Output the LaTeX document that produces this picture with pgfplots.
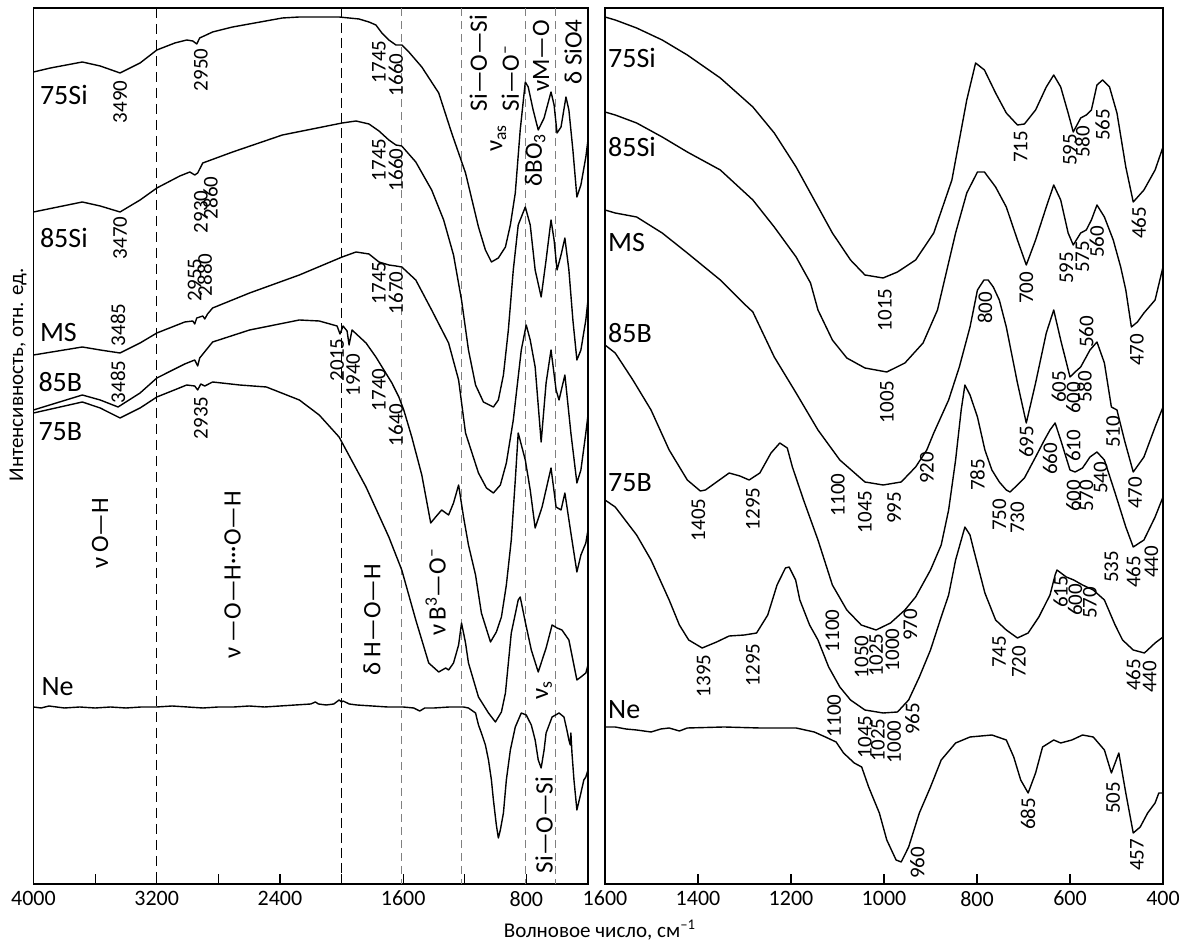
\documentclass[border=0pt]{standalone}
\usepackage{fontspec}
\setmainfont{Carlito}
\usepackage{pgfplots}
\pgfplotsset{compat=1.18}
\newcommand{\nf}{\fontsize{10.5}{11}\selectfont}
\newcommand{\smp}{\fontsize{14}{15}\selectfont}
\newcommand{\anf}{\fontsize{12.5}{13}\selectfont}
\pgfplotsset{
  spec/.style={
    scale only axis, height=438pt, anchor=south west,
    x dir=reverse, y dir=reverse,
    ymin=8, ymax=884, ytick=\empty,
    xtick pos=left, tick align=inside,
    major tick length=5pt, minor tick length=5pt,
    axis line style={line width=0.75pt},
    every tick/.style={black, line width=0.6pt},
    tick label style={font=\fontsize{11}{12}\selectfont},
    /pgf/number format/assume math mode=true,
    /pgf/number format/1000 sep={},
    clip=false,
  },
  sp/.style={black, line width=0.7pt, no markers, line join=round},
  dk/.style={black, line width=0.6pt, dash pattern=on 5pt off 3pt},
  dkb/.style={black, line width=0.9pt, dash pattern=on 5pt off 2.5pt},
  dg/.style={gray, line width=0.55pt, dash pattern=on 4pt off 2.5pt},
}
\newcommand{\nl}[3]{\node[rotate=90,font=\nf,inner sep=0pt] at (axis cs:#1,#2) {#3};}
\newcommand{\an}[3]{\node[rotate=90,font=\anf,inner sep=0pt] at (axis cs:#1,#2) {#3};}
\begin{document}
\begin{tikzpicture}
\useasboundingbox (0,0) rectangle (589.5pt,472.5pt);
% ---------------- left panel ----------------
\begin{axis}[spec, at={(16.75pt,30.5pt)}, width=277.25pt,
  xmin=400, xmax=4000, xtick={4000,3200,2400,1600,800},
  minor xtick={3600,2800,2000,1200,400}]
\addplot[dk] coordinates {(3200,8) (3200,884)};
\addplot[dkb] coordinates {(2000,8) (2000,884)};
\addplot[dg] coordinates {(1610,8) (1610,884)};
\addplot[dg] coordinates {(1220,8) (1220,884)};
\addplot[dg] coordinates {(805,8) (805,884)};
\addplot[dg] coordinates {(612,8) (612,884)};
% 75Si
\addplot[sp] coordinates {(4000,72) (3890,68) (3683,62) (3567,66) (3438,73) (3308,63) (3199,50) (3082,43) (3005,40) (2966,41) (2940,44) (2921,38) (2837,32) (2707,27) (2384,18) (2274,17) (2016,17) (1887,19) (1822,22) (1777,25) (1738,33) (1693,40) (1647,45) (1609,45) (1563,52) (1479,67) (1369,93) (1285,133) (1195,173) (1111,227) (1066,250) (1027,262) (982,258) (936,247) (904,225) (872,193) (840,130) (807,82) (788,87) (756,110) (723,130) (685,118) (640,92) (620,105) (601,133) (575,127) (543,97) (524,110) (498,150) (472,197) (446,185) (414,157) (400,140)};
% 85Si
\addplot[sp] coordinates {(4000,212) (3683,202) (3567,206) (3438,212) (3308,200) (3199,188) (3050,176) (2985,172) (2953,175) (2934,173) (2901,163) (2707,152) (2384,135) (1996,123) (1906,121) (1822,124) (1757,131) (1693,140) (1647,145) (1609,146) (1518,162) (1415,190) (1337,220) (1273,255) (1221,300) (1176,350) (1130,385) (1079,402) (1014,407) (982,400) (949,375) (917,330) (885,270) (853,225) (807,207) (775,225) (743,270) (704,297) (672,260) (640,220) (620,240) (601,270) (575,255) (550,238) (524,270) (498,320) (472,360) (446,350) (414,320) (400,300)};
% MS
\addplot[sp] coordinates {(4000,355) (3683,347) (3567,350) (3438,353) (3308,343) (3199,333) (3018,322) (2966,321) (2953,324) (2940,318) (2901,316) (2888,319) (2870,314) (2837,308) (2597,293) (2274,275) (1996,257) (1906,252) (1822,254) (1757,262) (1693,265) (1647,266) (1609,267) (1518,280) (1415,310) (1305,343) (1240,380) (1195,433) (1111,473) (1059,488) (1014,493) (969,485) (930,463) (885,420) (833,350) (801,325) (775,340) (743,367) (704,442) (672,383) (640,350) (607,390) (588,400) (550,375) (511,433) (472,483) (446,470) (414,433) (400,415)};
% 85B
\addplot[sp] coordinates {(4000,410) (3683,395) (3567,400) (3451,407) (3308,393) (3199,378) (3018,364) (2953,360) (2934,366) (2921,358) (2837,342) (2597,330) (2274,320) (2145,321) (2029,326) (2010,334) (1990,326) (1964,331) (1951,345) (1932,330) (1841,343) (1777,357) (1725,370) (1673,383) (1628,397) (1596,410) (1544,437) (1479,475) (1421,523) (1389,517) (1350,510) (1305,515) (1273,503) (1240,485) (1208,517) (1176,545) (1130,575) (1092,613) (1033,642) (995,632) (962,617) (930,585) (898,540) (872,480) (853,433) (807,460) (775,490) (743,528) (698,507) (640,468) (607,507) (575,510) (550,493) (511,533) (472,572) (446,555) (414,543) (400,530)};
% 75B
\addplot[sp] coordinates {(4000,413) (3683,402) (3567,408) (3438,418) (3308,408) (3199,397) (3005,385) (2953,386) (2934,390) (2914,384) (2888,386) (2837,382) (2662,385) (2488,387) (2274,400) (2145,415) (2016,437) (1841,487) (1693,537) (1609,570) (1518,620) (1434,663) (1369,672) (1324,668) (1305,670) (1273,663) (1240,645) (1221,623) (1195,643) (1176,663) (1111,697) (1046,713) (1001,722) (962,712) (936,693) (898,633) (853,600) (840,597) (807,622) (768,650) (723,672) (672,648) (633,625) (601,628) (569,630) (524,640) (498,660) (472,680) (446,677) (414,673) (400,665)};
% Ne
\addplot[sp] coordinates {(4000,707) (3950,708) (3900,706) (3850,707) (3800,708) (3700,707) (3600,708) (3500,707) (3400,708) (3300,707) (3200,707) (3100,706) (3000,707) (2900,708) (2800,707) (2700,707) (2600,706) (2500,707) (2400,706) (2300,705) (2200,704) (2170,702) (2150,704) (2100,705) (2050,704) (2016,700) (2000,702) (1990,701) (1950,704) (1900,705) (1800,706) (1700,707) (1600,707) (1531,708) (1492,711) (1460,708) (1400,708) (1300,707) (1208,707) (1176,708) (1130,713) (1111,725) (1092,733) (1066,745) (1046,760) (1027,780) (1014,800) (995,825) (982,838) (969,830) (949,813) (930,780) (904,750) (872,727) (833,713) (801,715) (768,725) (743,740) (723,760) (704,768) (685,750) (672,733) (633,717) (588,713) (556,717) (537,730) (524,740) (515,745) (511,733) (504,753) (491,780) (472,810) (446,793) (427,780) (414,777) (400,770)};
% sample names
\node[font=\smp,anchor=west,inner sep=0pt] at (axis cs:3960,95) {75Si};
\node[font=\smp,anchor=west,inner sep=0pt] at (axis cs:3960,238) {85Si};
\node[font=\smp,anchor=west,inner sep=0pt] at (axis cs:3960,333) {MS};
\node[font=\smp,anchor=west,inner sep=0pt] at (axis cs:3970,382) {85B};
\node[font=\smp,anchor=west,inner sep=0pt] at (axis cs:3970,432) {75B};
\node[font=\smp,anchor=west,inner sep=0pt] at (axis cs:3950,687) {Ne};
% peak labels
\nl{3438}{102}{3490}
\nl{2914}{70}{2950}
\nl{1757}{62}{1745}
\nl{1647}{75}{1660}
\nl{3438}{238}{3470}
\nl{2914}{212}{2930}
\nl{2850}{198}{2860}
\nl{1757}{160}{1745}
\nl{1647}{170}{1660}
\nl{2953}{280}{2955}
\nl{2888}{275}{2880}
\nl{3451}{325}{3485}
\nl{1757}{283}{1745}
\nl{1647}{293}{1670}
\nl{3451}{382}{3485}
\nl{2029}{360}{2015}
\nl{1925}{375}{1940}
\nl{1757}{390}{1740}
\nl{1647}{425}{1640}
\nl{2914}{418}{2935}
% band annotations
\an{3567}{533}{ν\,O—H}
\an{2707}{575}{ν —O—H···O—H}
\an{1803}{620}{δ H—O—H}
\an{1389}{592}{ν\,B\textsuperscript{3}—O\textsuperscript{–}}
\an{1111}{63}{Si—O—Si}
\an{982}{138}{ν\textsubscript{as}}
\an{904}{78}{Si—O\textsuperscript{–}}
\an{704}{56}{νM—O}
\an{743}{160}{δBO\textsubscript{3}}
\an{497}{52}{δ SiO4}
\an{685}{690}{ν\textsubscript{s}}
\an{685}{825}{Si—O—Si}
\end{axis}
% ---------------- right panel ----------------
\begin{axis}[spec, at={(302.5pt,30.5pt)}, width=279pt,
  xmin=400, xmax=1600, xtick={1600,1400,1200,1000,800,600,400}]
% 75Si
\addplot[sp] coordinates {(1600,17) (1578,20) (1532,28) (1477,40) (1423,55) (1352,78) (1282,107) (1236,133) (1189,167) (1150,200) (1111,233) (1072,260) (1041,275) (1002,278) (971,272) (932,260) (893,233) (854,180) (822,100) (803,63) (784,70) (760,93) (737,113) (713,125) (698,124) (674,110) (651,87) (635,75) (620,87) (604,113) (593,132) (577,118) (565,115) (554,110) (542,85) (530,80) (515,87) (499,113) (480,167) (464,202) (441,190) (417,170) (400,147)};
% 85Si
\addplot[sp] coordinates {(1600,112) (1578,115) (1532,123) (1477,137) (1423,152) (1352,170) (1282,200) (1236,227) (1189,257) (1158,283) (1142,310) (1111,340) (1080,358) (1041,368) (994,372) (955,363) (916,343) (885,310) (846,233) (822,193) (799,172) (784,172) (760,187) (737,207) (713,240) (694,265) (674,240) (651,207) (635,185) (620,200) (604,233) (593,245) (577,233) (565,230) (554,220) (542,205) (526,217) (507,240) (491,267) (480,290) (468,327) (455,322) (441,313) (417,300) (400,267)};
% MS
\addplot[sp] coordinates {(1600,210) (1578,213) (1532,217) (1477,233) (1423,253) (1352,280) (1298,305) (1282,312) (1236,357) (1189,393) (1142,430) (1095,460) (1041,482) (1002,485) (963,482) (932,467) (908,450) (893,433) (861,400) (838,367) (815,327) (799,290) (785,280) (776,280) (765,287) (752,300) (737,327) (713,383) (694,423) (674,383) (651,333) (635,310) (620,340) (600,377) (589,372) (577,367) (557,350) (542,342) (526,363) (511,407) (499,410) (483,440) (464,472) (441,457) (417,427) (400,407)};
% 85B
\addplot[sp] coordinates {(1600,345) (1578,353) (1540,380) (1501,410) (1462,450) (1423,480) (1395,491) (1384,490) (1360,482) (1333,473) (1310,476) (1290,480) (1267,473) (1243,453) (1224,443) (1208,448) (1197,467) (1173,500) (1142,540) (1111,585) (1080,610) (1049,625) (1017,630) (986,623) (955,610) (932,597) (900,570) (877,545) (861,510) (846,460) (834,410) (826,385) (815,395) (799,417) (783,450) (768,470) (752,482) (737,490) (729,492) (713,485) (698,478) (674,457) (655,440) (643,430) (632,423) (620,440) (610,455) (600,470) (589,472) (573,468) (557,457) (542,452) (526,460) (503,493) (480,527) (464,547) (441,540) (417,517) (400,497)};
% 75B
\addplot[sp] coordinates {(1600,500) (1578,507) (1532,535) (1501,560) (1462,600) (1440,625) (1420,640) (1391,648) (1360,642) (1333,636) (1300,635) (1274,633) (1250,615) (1230,585) (1212,568) (1204,567) (1190,580) (1181,600) (1160,625) (1142,640) (1119,667) (1095,687) (1072,700) (1041,710) (1002,713) (971,712) (947,700) (924,677) (900,650) (877,617) (861,595) (846,560) (826,527) (815,535) (807,550) (783,593) (760,620) (737,630) (713,638) (690,633) (667,617) (643,595) (632,575) (628,570) (608,577) (592,580) (573,585) (550,590) (526,600) (503,625) (487,640) (464,650) (440,653) (417,643) (400,637)};
% Ne
\addplot[sp] coordinates {(1600,727) (1578,727) (1555,729) (1532,730) (1501,732) (1480,729) (1462,728) (1440,731) (1423,728) (1344,727) (1267,728) (1189,728) (1150,732) (1126,737) (1103,742) (1087,753) (1064,763) (1048,767) (1033,787) (1010,813) (994,840) (974,860) (963,862) (947,847) (924,813) (900,787) (877,760) (846,743) (815,737) (768,735) (737,740) (721,757) (706,780) (690,793) (674,773) (659,747) (635,740) (620,743) (596,740) (573,735) (550,737) (526,750) (511,773) (495,753) (480,793) (464,833) (449,827) (433,813) (417,803) (409,793) (400,793)};
% sample names
\node[font=\smp,anchor=west,inner sep=0pt] at (axis cs:1594,58) {75Si};
\node[font=\smp,anchor=west,inner sep=0pt] at (axis cs:1594,147) {85Si};
\node[font=\smp,anchor=west,inner sep=0pt] at (axis cs:1594,243) {MS};
\node[font=\smp,anchor=west,inner sep=0pt] at (axis cs:1594,333) {85B};
\node[font=\smp,anchor=west,inner sep=0pt] at (axis cs:1594,483) {75B};
\node[font=\smp,anchor=west,inner sep=0pt] at (axis cs:1594,710) {Ne};
% labels
\nl{998}{310}{1015}
\nl{706}{147}{715}
\nl{600}{150}{595}
\nl{573}{142}{580}
\nl{530}{125}{565}
\nl{452}{223}{465}
\nl{694}{288}{700}
\nl{608}{268}{595}
\nl{573}{257}{575}
\nl{542}{242}{560}
\nl{456}{350}{470}
\nl{994}{402}{1005}
\nl{783}{308}{800}
\nl{1099}{495}{1100}
\nl{1041}{512}{1045}
\nl{978}{508}{995}
\nl{908}{468}{920}
\nl{799}{475}{785}
\nl{752}{515}{750}
\nl{713}{518}{730}
\nl{694}{442}{695}
\nl{624}{387}{605}
\nl{593}{398}{600}
\nl{569}{387}{580}
\nl{565}{332}{560}
\nl{643}{459}{660}
\nl{593}{446}{610}
\nl{593}{496}{600}
\nl{565}{496}{570}
\nl{534}{478}{540}
\nl{507}{432}{510}
\nl{460}{493}{470}
\nl{464}{572}{465}
\nl{425}{562}{440}
\nl{1399}{520}{1405}
\nl{1282}{509}{1295}
\nl{1111}{631}{1100}
\nl{1048}{657}{1050}
\nl{1017}{655}{1025}
\nl{982}{650}{1000}
\nl{943}{625}{970}
\nl{752}{652}{745}
\nl{710}{662}{720}
\nl{620}{592}{615}
\nl{589}{600}{600}
\nl{557}{603}{570}
\nl{511}{567}{535}
\nl{464}{675}{465}
\nl{429}{677}{440}
\nl{1388}{676}{1395}
\nl{1282}{665}{1295}
\nl{1107}{716}{1100}
\nl{1041}{737}{1045}
\nl{1013}{740}{1025}
\nl{978}{742}{1000}
\nl{939}{719}{965}
\nl{928}{863}{960}
\nl{690}{814}{685}
\nl{507}{798}{505}
\nl{456}{855}{457}
\end{axis}
\node[rotate=90,font=\fontsize{10.5}{11}\selectfont] at (9pt,285pt) {Интенсивность, отн. ед.};
\node[font=\fontsize{10.5}{11}\selectfont] at (300pt,7.5pt) {Волновое число, см\textsuperscript{–1}};
\end{tikzpicture}
\end{document}
